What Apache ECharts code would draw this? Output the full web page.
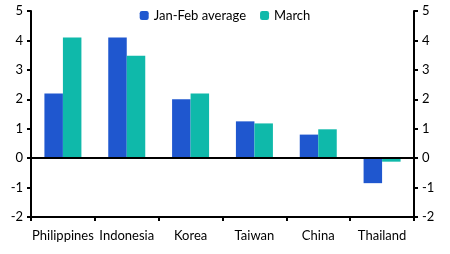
<!DOCTYPE html>
<html><head><meta charset="utf-8">
<script src="https://cdn.jsdelivr.net/npm/echarts@6/dist/echarts.min.js"></script>
<style>html,body{margin:0;padding:0;background:#fff}#c{width:450px;height:254px}</style>
</head><body><div id="c"></div>
<script>
const categories = ["Philippines","Indonesia","Korea","Taiwan","China","Thailand"];
const janFebAverage = [2.2, 4.1, 2.0, 1.25, 0.8, -0.85];
const march = [4.1, 3.48, 2.2, 1.18, 0.98, -0.12];
const yMin = -2, yMax = 5, yStep = 1;
const FONT = "Lato";
const axisCommon = {
  type: 'value', min: yMin, max: yMax, interval: yStep,
  axisLine: {show: true, lineStyle: {color: '#000', width: 2}},
  axisTick: {show: true, length: 4, lineStyle: {color: '#000', width: 2}},
  axisLabel: {color: '#000', fontSize: 13, fontFamily: FONT},
  splitLine: {show: false}
};
const chart = echarts.init(document.getElementById('c'), null, {renderer: 'canvas'});
chart.setOption({
  animation: false,
  grid: {left: 31, right: 36, top: 11, bottom: 37, containLabel: false},
  legend: {
    top: 4, left: 'center', itemWidth: 9, itemHeight: 9, itemGap: 14,
    textStyle: {fontSize: 13, fontFamily: FONT, color: '#000'},
    data: ['Jan-Feb average', 'March']
  },
  xAxis: {
    type: 'category', data: categories,
    axisLine: {onZero: false, lineStyle: {color: '#000', width: 2}},
    axisTick: {show: true, length: 4, lineStyle: {color: '#000', width: 2}},
    axisLabel: {color: '#000', fontSize: 13, fontFamily: FONT, margin: 12, interval: 0}
  },
  yAxis: [
    Object.assign({}, axisCommon, {position: 'left'}),
    Object.assign({}, axisCommon, {position: 'right'})
  ],
  series: [
    {name: 'Jan-Feb average', type: 'bar', data: janFebAverage, barWidth: 18.5, barGap: '0%',
     itemStyle: {color: '#1F57CF'},
     markLine: {silent: true, symbol: 'none', label: {show: false},
       lineStyle: {color: '#000', width: 2, type: 'solid'}, data: [{yAxis: 0}]}},
    {name: 'March', type: 'bar', data: march, barWidth: 18.5, barGap: '0%',
     itemStyle: {color: '#0FB9AA'}}
  ]
});
</script></body></html>
